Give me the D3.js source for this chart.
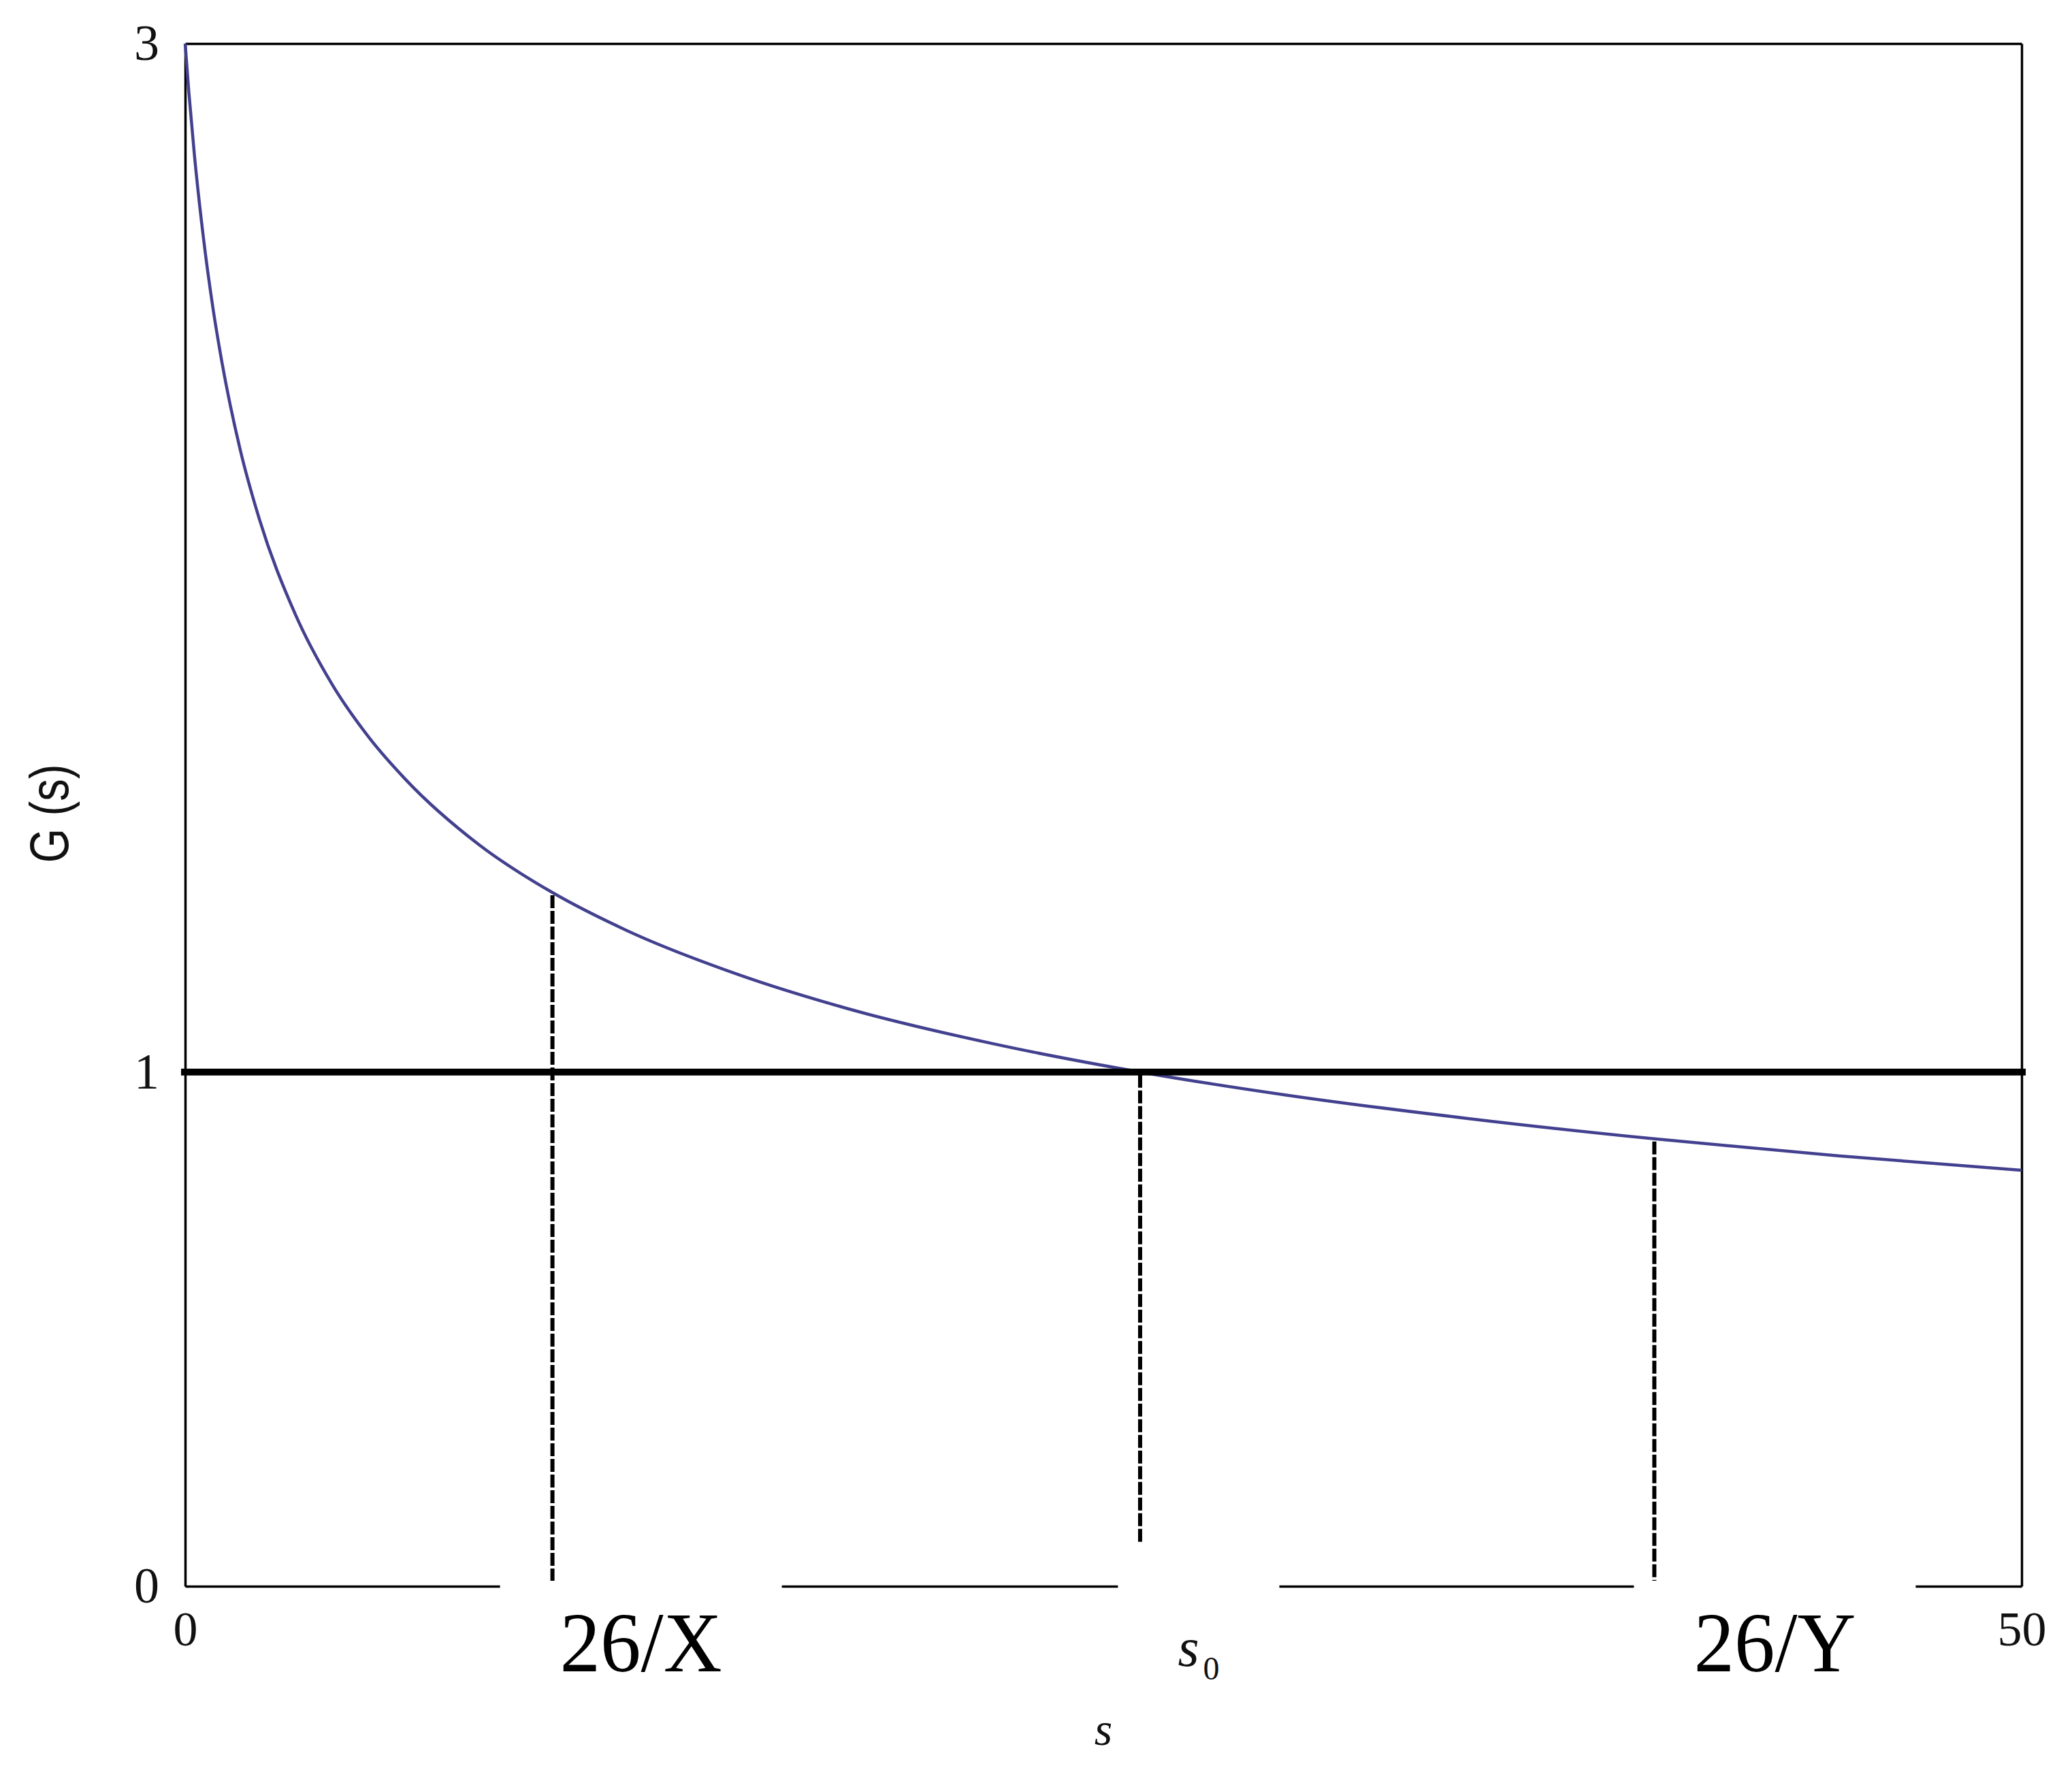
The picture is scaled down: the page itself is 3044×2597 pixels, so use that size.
<!DOCTYPE html>
<html><head><meta charset="utf-8">
<script src="https://cdn.jsdelivr.net/npm/d3@7"></script>
<style>html,body{margin:0;padding:0;background:#fff;} svg{display:block}</style>
</head><body>
<script>
// ---- data ----
const sValues = [0, 0.1, 0.25, 0.5, 0.75, 1, 1.5, 2, 3, 4, 5, 6, 8, 10, 12, 15, 18, 22, 26, 30, 35, 40, 45, 50];
const gValues = [3, 2.906, 2.785, 2.621, 2.489, 2.381, 2.21, 2.08, 1.89, 1.754, 1.651, 1.569, 1.442, 1.349, 1.276, 1.191, 1.124, 1.055, 1.0, 0.955, 0.909, 0.87, 0.837, 0.809];
const markerS = [10, 26, 40];
const markerG = [1.349, 1.0, 0.87];
const markerLabels = ["26/X", "s0", "26/Y"];
const xTicks = [0, 50];
const yTicks = [0, 1, 3];
const refValue = 1;
const xTitle = "s";
const yTitle = "G (s)";

// ---- layout ----
const W = 3044, H = 2597;
const svg = d3.select("body").append("svg").attr("width", W).attr("height", H)
  .style("background", "#fff");
const x = d3.scaleLinear().domain([0, 50]).range([272, 2970]);
const y = d3.scaleLinear().domain([0, 3]).range([2330, 64]);
const serif = "'Liberation Serif', 'Times New Roman', serif";

// frame: top & right
svg.append("g").attr("transform", `translate(0,${y(3)})`)
  .call(d3.axisTop(x).tickValues([]).tickSizeOuter(0))
  .select(".domain").attr("stroke", "#000").attr("stroke-width", 3.5);
svg.append("g").attr("transform", `translate(${x(50)},0)`)
  .call(d3.axisRight(y).tickValues([]).tickSizeOuter(0))
  .select(".domain").attr("stroke", "#000").attr("stroke-width", 3.5);

// bottom axis
const gx = svg.append("g").attr("transform", `translate(0,${y(0)})`)
  .call(d3.axisBottom(x).tickValues(xTicks).tickSize(0).tickSizeOuter(0).tickPadding(36).tickFormat(d3.format("d")));
gx.select(".domain").attr("stroke", "#000").attr("stroke-width", 3.5);
gx.selectAll("text").attr("font-family", serif).attr("font-size", 72).attr("fill", "#111");

// left axis
const gy = svg.append("g").attr("transform", `translate(${x(0)},0)`)
  .call(d3.axisLeft(y).tickValues(yTicks).tickSize(0).tickSizeOuter(0).tickPadding(38).tickFormat(d3.format("d")));
gy.select(".domain").attr("stroke", "#000").attr("stroke-width", 3.5);
gy.selectAll("text").attr("font-family", serif).attr("font-size", 74).attr("fill", "#111");

// curve
const pts = sValues.map((s, i) => [s, gValues[i]]);
svg.append("path").datum(pts)
  .attr("fill", "none").attr("stroke", "#43418f").attr("stroke-width", 4.5)
  .attr("stroke-linejoin", "round")
  .attr("d", d3.line().x(d => x(d[0])).y(d => y(d[1])).curve(d3.curveMonotoneX));

// reference line G = 1
svg.append("line")
  .attr("x1", x(0) - 6).attr("x2", x(50) + 6)
  .attr("y1", y(refValue)).attr("y2", y(refValue))
  .attr("stroke", "#000").attr("stroke-width", 10);

// dashed marker lines
svg.selectAll("line.marker").data(markerS).join("line").attr("class", "marker")
  .attr("x1", d => x(d)).attr("x2", d => x(d))
  .attr("y1", (d, i) => y(markerG[i]) + 4).attr("y2", y(0))
  .attr("stroke", "#000").attr("stroke-width", 6).attr("stroke-dasharray", "19,4");

// marker labels with white boxes
const labelOffset = [130, 86, 177];
const boxTopPad = [51, 140, 51];
markerLabels.forEach((lab, i) => {
  const cx = x(markerS[i]) + labelOffset[i];
  const g = svg.append("g");
  const box = g.append("rect").attr("fill", "#fff");
  let t;
  if (lab === "s0") {
    t = g.append("text").attr("x", cx).attr("y", 2447).attr("text-anchor", "middle")
      .attr("font-family", serif).attr("fill", "#111");
    t.append("tspan").attr("font-style", "italic").attr("font-size", 80).text("s");
    t.append("tspan").attr("font-size", 48).attr("dx", 6).attr("dy", 20).text("0");
  } else {
    t = g.append("text").attr("x", cx).attr("y", 2455).attr("text-anchor", "middle")
      .attr("font-family", serif).attr("font-size", 124).attr("fill", "#000")
      .attr("textLength", 238).attr("lengthAdjust", "spacingAndGlyphs").text(lab);
  }
  const bb = t.node().getBBox();
  const top = (lab === "s0" ? 2408 : 2373) - boxTopPad[i];
  box.attr("x", bb.x - 88).attr("width", bb.width + 176)
    .attr("y", top).attr("height", 2480 - top);
});

// axis titles
svg.append("text").attr("x", (x(0) + x(50)) / 2).attr("y", 2563).attr("text-anchor", "middle")
  .attr("font-family", serif).attr("font-style", "italic").attr("font-size", 68).attr("fill", "#111")
  .text(xTitle);
svg.append("text").attr("transform", "translate(100,1195) rotate(-90)").attr("text-anchor", "middle")
  .attr("font-family", "'Liberation Sans', Arial, sans-serif").attr("font-size", 80).attr("fill", "#111")
  .attr("textLength", 145).attr("lengthAdjust", "spacingAndGlyphs")
  .text(yTitle);
</script>
</body></html>
